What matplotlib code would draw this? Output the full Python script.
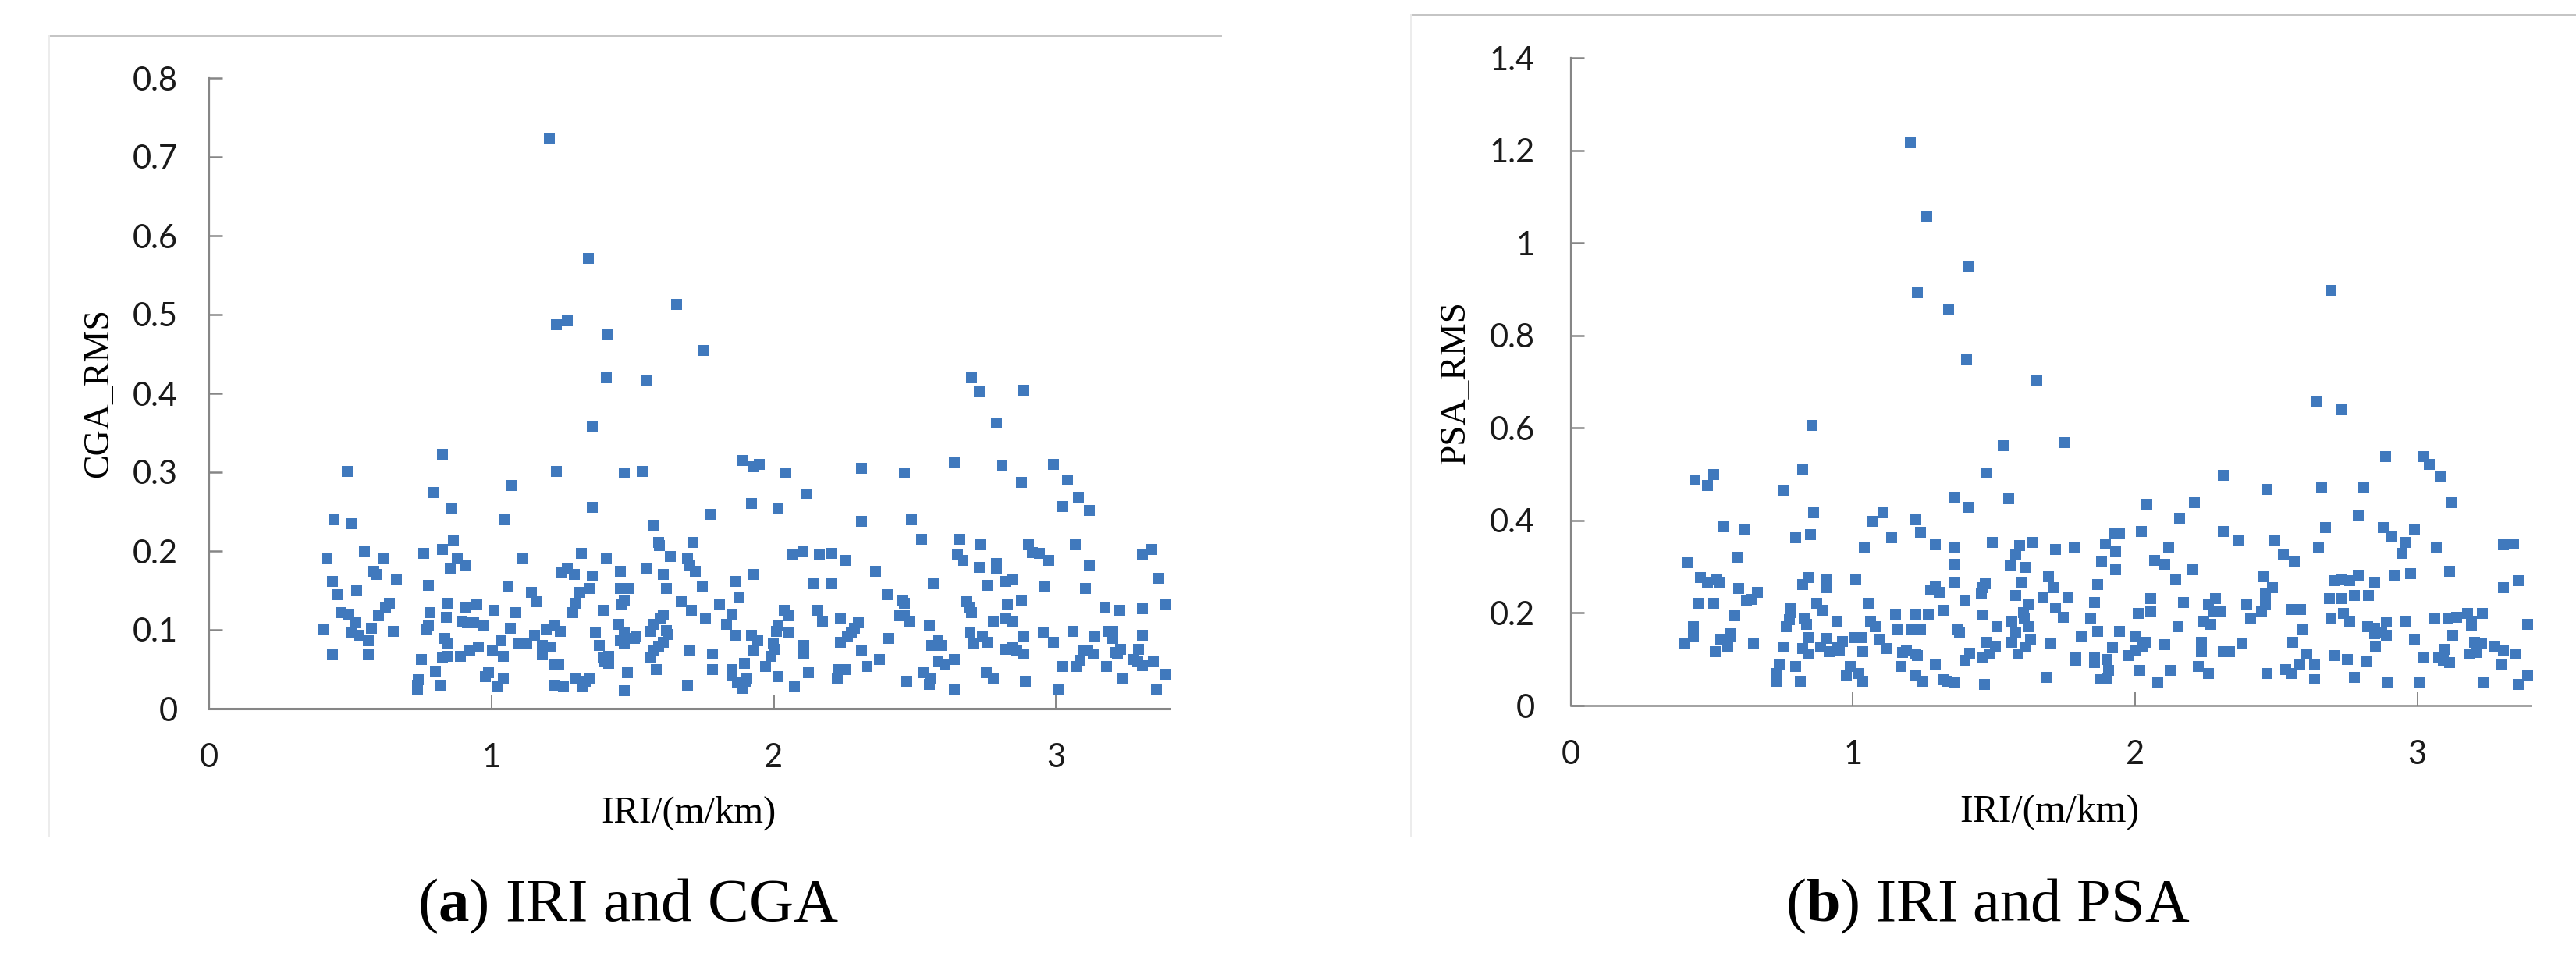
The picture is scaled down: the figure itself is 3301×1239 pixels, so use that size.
import matplotlib
matplotlib.use("Agg")
import matplotlib.pyplot as plt
from matplotlib.lines import Line2D

# tamaño de la imagen original en pixeles
W, H = 3301, 1239
COLOR = '#4079bd'
GRIS = '#868686'

plt.rcParams['mathtext.fontset'] = 'custom'
plt.rcParams['mathtext.bf'] = 'Liberation Serif:bold'

# Panel (a): IRI contra CGA_RMS
a_x = [1.205, 1.344, 1.231, 1.268, 1.413, 1.407, 1.551, 1.657, 1.752, 2.702, 2.727, 2.884, 2.789,
       1.356, .827, .488, 1.231, 1.470, 1.533, .796, 1.073, .858, 1.356, .443, .506, 1.048, .866, .827,
       .550, .759, .418, .619, .878, 1.111, 1.319, 1.407, .909, .853, .582, .594, 1.457, 1.551, 1.268,
       1.250, 1.293, 1.356, .663, .437, .777, 1.060, 1.350, 1.457, 1.488, .522, .455, 1.143, 1.312,
       1.161, 1.470, 1.299, .638, .626, .847, .947, .909, 1.463, 1.010, 1.395, .783, 1.086, 1.287, .468,
       .493, .600, .840, .519, .896, .915, .937, .971, .777, .771, .405, .576, 1.067, 1.224, 1.193,
       1.243, .651, 1.451, 1.470, 1.369, .503, .531, 1.154, .563, .834, .847, 1.035, 1.513, 1.507,
       1.457, 1.470, 1.098, 1.124, 1.180, 1.212, 1.382, .953, .922, 1.003, .437, .563, 1.180, .847,
       .827, .890, 1.041, .751, 1.414, 1.395, 1.401, 1.414, 1.224, 1.237, .802, 1.483, .990, .979,
       1.041, .742, 1.299, 1.350, 1.331, .739, .739, .821, 1.224, 1.256, 1.022, 1.325, 1.470,
       1.890, 1.928, 1.948, 2.041, 2.312, 2.464, 2.639, 2.809, 2.991, 2.878, 3.042, 2.117, 3.079, 1.922,
       2.016, 3.023, 3.117, 1.777, 2.312, 2.488, 1.576, 2.525, 2.658, 1.714, 1.593, 1.594, 2.732, 2.903,
       3.067, 2.916, 2.940, 2.973, 2.651, 2.671, 2.104, 2.067, 2.162, 2.206, 2.255, 1.633, 1.695, 1.700,
       1.721, 1.608, 1.928, 2.361, 2.727, 2.789, 2.789, 3.117, 3.306, 3.338, 1.866, 2.142, 2.205, 2.564,
       2.758, 2.821, 2.847, 3.363, 1.620, 1.746, 2.961, 3.105, 2.401, 1.878, 2.456, 2.464, 1.671, 2.683,
       2.691, 2.878, 2.827, 1.809, 3.173, 3.224, 3.306, 3.387, 1.708, 2.036, 2.154, 2.702, 1.853, 1.608,
       1.599, 2.054, 1.758, 2.236, 2.300, 2.174, 2.444, 2.464, 2.482, 2.778, 2.821, 2.847, 1.576, 1.834,
       2.016, 2.286, 2.551, 1.563, 2.009, 2.054, 1.621, 1.624, 1.866, 1.922, 2.276, 2.261, 2.695, 2.740,
       2.884, 2.954, 3.060, 3.136, 3.186, 3.200, 3.200, 3.306, 2.406, 1.942, 2.237, 1.608, 2.583, 2.991,
       2.758, 2.708, 1.998, 2.105, 2.557, 2.592, 1.593, 1.575, 2.005, 2.105, 2.821, 2.847, 2.861, 2.884,
       3.097, 3.110, 3.131, 3.229, 3.208, 3.218, 3.293, 1.929, 1.702, 1.784, 2.312, 2.105, 1.991, 1.563,
       2.374, 2.639, 2.583, 2.607, 1.896, 3.085, 3.276, 3.289, 3.344, 3.306, 3.073, 3.023, 3.180, 2.330,
       1.972, 1.583, 1.784, 1.853, 2.229, 2.255, 2.123, 2.533, 2.752, 1.853, 2.016, 2.224, 1.904, 2.555,
       2.778, 3.237, 3.387, 2.470, 2.890, 1.871, 1.901, 2.551, 1.694, 2.073, 1.891, 2.639, 3.010, 3.356]
a_y = [.7225, .571, .487, .492, .474, .420, .4155, .5125, .454, .420, .402, .404, .362,
       .357, .323, .301, .301, .299, .301, .274, .283, .253, .255, .240, .235, .240, .213, .202,
       .199, .197, .190, .190, .190, .190, .197, .190, .181, .177, .174, .170, .174, .177, .177,
       .172, .170, .168, .163, .161, .156, .154, .152, .152, .152, .150, .145, .148, .148,
       .136, .138, .134, .134, .129, .134, .132, .129, .132, .125, .125, .122, .122, .122, .122,
       .120, .118, .116, .109, .111, .109, .109, .105, .105, .100, .100, .102, .102, .105, .100,
       .098, .098, .107, .096, .096, .096, .093, .093, .086, .089, .082, .086, .091, .089,
       .086, .082, .082, .082, .080, .078, .080, .078, .073, .073, .068, .068, .068, .066,
       .064, .066, .066, .062, .066, .064, .059, .057, .055, .055, .048, .046, .046, .041,
       .039, .037, .039, .039, .035, .030, .025, .030, .030, .028, .028, .028, .023,
       .315, .307, .310, .299, .305, .299, .312, .308, .310, .287, .290, .272, .267, .260,
       .253, .256, .251, .247, .238, .240, .233, .215, .215, .211, .211, .207, .208, .208,
       .208, .198, .197, .188, .195, .188, .199, .195, .195, .197, .188, .193, .190, .182,
       .174, .170, .170, .174, .179, .184, .177, .181, .195, .202, .161, .158, .158, .158,
       .156, .161, .163, .165, .152, .154, .154, .152, .145, .141, .138, .134, .136, .136,
       .129, .138, .132, .132, .129, .125, .127, .132, .125, .125, .125, .122, .120, .119,
       .115, .118, .114, .114, .109, .111, .118, .118, .111, .111, .114, .111, .107, .107,
       .105, .102, .105, .098, .098, .096, .099, .094, .093, .093, .096, .091, .096, .092,
       .091, .096, .098, .091, .098, .098, .089, .093, .089, .086, .084, .084, .087, .084,
       .084, .082, .082, .080, .080, .080, .079, .074, .075, .074, .075, .078, .073, .069,
       .073, .073, .069, .075, .071, .069, .075, .073, .073, .069, .073, .069, .066, .064,
       .062, .062, .059, .055, .057, .061, .062, .059, .059, .054, .053, .053, .053, .053,
       .053, .050, .050, .050, .050, .050, .046, .046, .046, .042, .041, .039, .039, .039,
       .039, .039, .044, .035, .035, .033, .035, .031, .030, .028, .026, .025, .025, .025]

# Panel (b): IRI contra PSA_RMS
b_x = [1.203, 1.261, 1.409, 1.228, 2.695, 1.338, 1.403, 1.653,
       .855, .823, .506, .442, .486, .752, .861, 1.106, 1.068, 1.222, 1.241, .544, .616, .849, .797,
       1.138, 1.293, 1.042, .590, .416, .841, .461, .486, .518, .528, 1.010, .906, .906, .906, .823,
       .596, .661, 1.293, 1.276, 1.305, .639, .624, .454, .506, .873, .893, 1.054, .777, .777, .775,
       1.150, 1.222, 1.267, 1.319, .583, .829, .835, .945, 1.062, 1.080, .765, .435, .435, .435, 1.156,
       1.209, 1.241, .568, .568, .531, .841, .906, 1.006, 1.030, 1.094, .963, .403, .649, .558, .752,
       .823, .887, .945, .916, .951, 1.119, .841, .512, 1.034, 1.190, 1.177, 1.222, 1.230, .739, .797,
       1.293, 1.171, .990, .732, .732, .815, .978, 1.021, 1.034, 1.222, 1.248, 1.319, 1.335,
       2.642, 2.732, 1.532, 1.752, 2.887, 3.023, 3.042, 1.474, 2.313, 3.082, 2.468, 2.661, 2.810, 1.361,
       1.409, 1.551, 2.042, 2.210, 3.120, 2.158, 2.790, 2.880, 2.990, 2.674, 2.313, 2.023, 1.925, 1.946,
       2.907, 2.958, 2.364, 2.494, 1.494, 1.591, 1.635, 1.894, 1.932, 1.784, 1.719, 2.118, 2.649, 3.068,
       3.306, 3.340, 1.361, 1.577, 2.526, 2.945, 2.069, 2.106, 2.564, 1.559, 1.609, 1.880, 1.358, 1.932,
       2.203, 2.790, 3.113, 2.920, 2.977, 1.693, 2.454, 2.145, 2.705, 2.732, 2.759, 2.849, 3.358, 1.468,
       1.460, 1.597, 1.361, 1.867, 1.709, 2.487, 3.306, 1.454, 2.461, 1.577, 1.763, 1.674, 2.778, 2.826,
       2.055, 2.285, 2.687, 2.732, 1.396, 1.622, 1.855, 2.172, 2.261, 2.396, 2.461, 1.719, 1.605, 1.461,
       2.010, 2.055, 2.278, 2.300, 2.447, 2.553, 2.585, 2.739, 3.178, 3.230, 2.694, 1.841, 1.745, 1.564,
       1.608, 2.243, 2.409, 2.759, 2.958, 3.062, 3.107, 3.140, 2.889, 3.192, 1.512, 1.622, 2.152, 2.268,
       3.391, 2.824, 3.192, 1.371, 1.377, 1.577, 1.867, 1.945, 2.591, 2.849, 2.849, 2.874, 2.889, 2.003,
       1.810, 3.126, 1.629, 2.990, 1.474, 1.564, 1.700, 2.035, 2.106, 2.236, 2.378, 2.557, 3.203, 3.227,
       3.274, 1.506, 1.609, 1.920, 2.028, 2.236, 2.851, 3.306, 3.094, 3.210, 3.185, 1.487, 1.415, 1.584,
       2.000, 1.979, 2.236, 2.313, 2.334, 2.609, 2.707, 3.346, 1.457, 1.791, 1.855, 1.901, 2.752, 2.822,
       3.023, 3.075, 3.093, 1.396, 1.791, 1.855, 3.113, 2.223, 3.295, 2.636, 2.584, 2.533, 2.016, 2.124,
       1.906, 3.391, 2.261, 2.468, 2.553, 1.687, 2.777, 1.901, 1.876, 2.636, 2.079, 1.467, 1.358, 2.894,
       3.010, 3.235, 3.358]
b_y = [1.216, 1.058, .948, .893, .897, .857, .747, .703,
       .606, .511, .499, .488, .476, .464, .417, .417, .398, .402, .374, .386, .382, .370, .363,
       .363, .347, .343, .320, .308, .277, .277, .267, .271, .267, .273, .274, .264, .255, .261,
       .253, .245, .257, .249, .245, .230, .226, .221, .221, .221, .206, .221, .211, .200, .186,
       .198, .198, .198, .206, .194, .187, .175, .182, .182, .170, .170, .170, .160, .150, .166,
       .166, .163, .155, .148, .143, .147, .145, .147, .147, .143, .139, .135, .135, .126, .127,
       .123, .127, .127, .116, .119, .123, .112, .116, .116, .118, .115, .112, .108, .088, .084,
       .088, .084, .084, .069, .053, .053, .064, .069, .053, .064, .053, .056, .052,
       .656, .640, .562, .569, .538, .538, .522, .502, .498, .494, .467, .471, .471, .451,
       .428, .447, .435, .439, .439, .404, .412, .384, .380, .384, .376, .376, .372, .372,
       .365, .353, .357, .357, .353, .345, .353, .349, .333, .341, .337, .341, .341, .341,
       .347, .349, .341, .325, .325, .329, .313, .306, .310, .302, .298, .310, .305, .294,
       .294, .282, .290, .282, .285, .278, .278, .274, .270, .274, .270, .266, .270, .263,
       .254, .266, .266, .262, .254, .254, .254, .241, .241, .238, .234, .234, .238, .238,
       .231, .231, .231, .231, .227, .219, .223, .223, .219, .219, .220, .211, .201, .196,
       .199, .203, .203, .203, .203, .207, .207, .199, .199, .199, .187, .187, .191, .183,
       .187, .183, .187, .183, .183, .187, .187, .191, .180, .183, .171, .171, .171, .175,
       .175, .171, .173, .163, .158, .159, .160, .160, .163, .167, .156, .159, .151, .148,
       .148, .152, .144, .144, .137, .137, .133, .137, .131, .137, .133, .137, .137, .133,
       .128, .128, .127, .125, .128, .125, .128, .120, .121, .114, .111, .111, .113, .111,
       .120, .108, .117, .117, .117, .111, .108, .112, .105, .105, .105, .100, .100, .096,
       .105, .103, .097, .097, .097, .092, .093, .085, .089, .089, .089, .078, .076, .076,
       .076, .065, .069, .069, .069, .061, .061, .059, .057, .057, .049, .046, .049, .049,
       .049, .049, .046]

x_ticks = [0, 1, 2, 3]
a_y_ticks = [0, 0.1, 0.2, 0.3, 0.4, 0.5, 0.6, 0.7, 0.8]
a_y_labels = ['0', '0.1', '0.2', '0.3', '0.4', '0.5', '0.6', '0.7', '0.8']
b_y_ticks = [0, 0.2, 0.4, 0.6, 0.8, 1.0, 1.2, 1.4]
b_y_labels = ['0', '0.2', '0.4', '0.6', '0.8', '1', '1.2', '1.4']


def ejes_pixeles(fig, x0, y_top, x1, y_bottom):
    # crea ejes a partir de coordenadas en pixeles de la imagen
    return fig.add_axes([x0 / W, 1 - y_bottom / H, (x1 - x0) / W, (y_bottom - y_top) / H])


def dibujar_panel(ax, xs, ys, ymax, yticks, ylabels, lw_x, pad_y):
    ax.scatter(xs, ys, marker='s', s=98, color=COLOR, linewidths=0, clip_on=False, zorder=3)
    ax.set_xlim(0, 3.4)
    ax.set_ylim(0, ymax)
    ax.set_xticks(x_ticks)
    ax.set_yticks(yticks)
    ax.set_yticklabels(ylabels)
    ax.tick_params(axis='x', direction='in', length=12, width=1.4, color=GRIS, pad=32,
                   labelsize=30, labelfontfamily='Lato', labelcolor='#1a1a1a')
    ax.tick_params(axis='y', direction='in', length=12, width=1.8, color=GRIS, pad=pad_y,
                   labelsize=30, labelfontfamily='Lato', labelcolor='#1a1a1a')
    ax.spines['top'].set_visible(False)
    ax.spines['right'].set_visible(False)
    ax.spines['left'].set_color(GRIS)
    ax.spines['left'].set_linewidth(1.6)
    ax.spines['bottom'].set_color(GRIS)
    ax.spines['bottom'].set_linewidth(lw_x)


def texto(fig, x, y, s, va='center', **kw):
    fig.text(x / W, 1 - y / H, s, family='Liberation Serif', color='black', ha='center', va=va, **kw)


def linea(fig, x0, y0, x1, y1, color):
    fig.add_artist(Line2D([x0 / W, x1 / W], [1 - y0 / H, 1 - y1 / H], color=color, lw=1.4))


def main():
    fig = plt.figure(figsize=(W / 100, H / 100), dpi=100, facecolor='white')

    # marcos claros de las imagenes pegadas
    linea(fig, 63, 46, 1565, 46, '#c4c4c4')
    linea(fig, 63, 46, 63, 1072, '#ececec')
    linea(fig, 1808, 19, 3301, 19, '#c4c4c4')
    linea(fig, 1808, 19, 1808, 1072, '#ececec')

    ax_a = ejes_pixeles(fig, 268, 100, 1498, 908)
    dibujar_panel(ax_a, a_x, a_y, 0.8, a_y_ticks, a_y_labels, 2.2, 29)
    ax_b = ejes_pixeles(fig, 2012.5, 74, 3242.5, 904)
    dibujar_panel(ax_b, b_x, b_y, 1.4, b_y_ticks, b_y_labels, 1.8, 33)

    texto(fig, 127, 503, 'CGA_RMS', fontsize=33, rotation=90)
    texto(fig, 882, 1042, 'IRI/(m/km)', fontsize=35)
    texto(fig, 1865, 490, 'PSA_RMS', fontsize=34, rotation=90)
    texto(fig, 2626, 1041, 'IRI/(m/km)', fontsize=36)

    texto(fig, 805, 1180, r'($\mathbf{a}$) IRI and CGA', va='baseline', fontsize=57)
    texto(fig, 2547, 1180, r'($\mathbf{b}$) IRI and PSA', va='baseline', fontsize=56.5)

    fig.savefig('out.png', dpi=100, facecolor='white')


if __name__ == "__main__":
    main()
